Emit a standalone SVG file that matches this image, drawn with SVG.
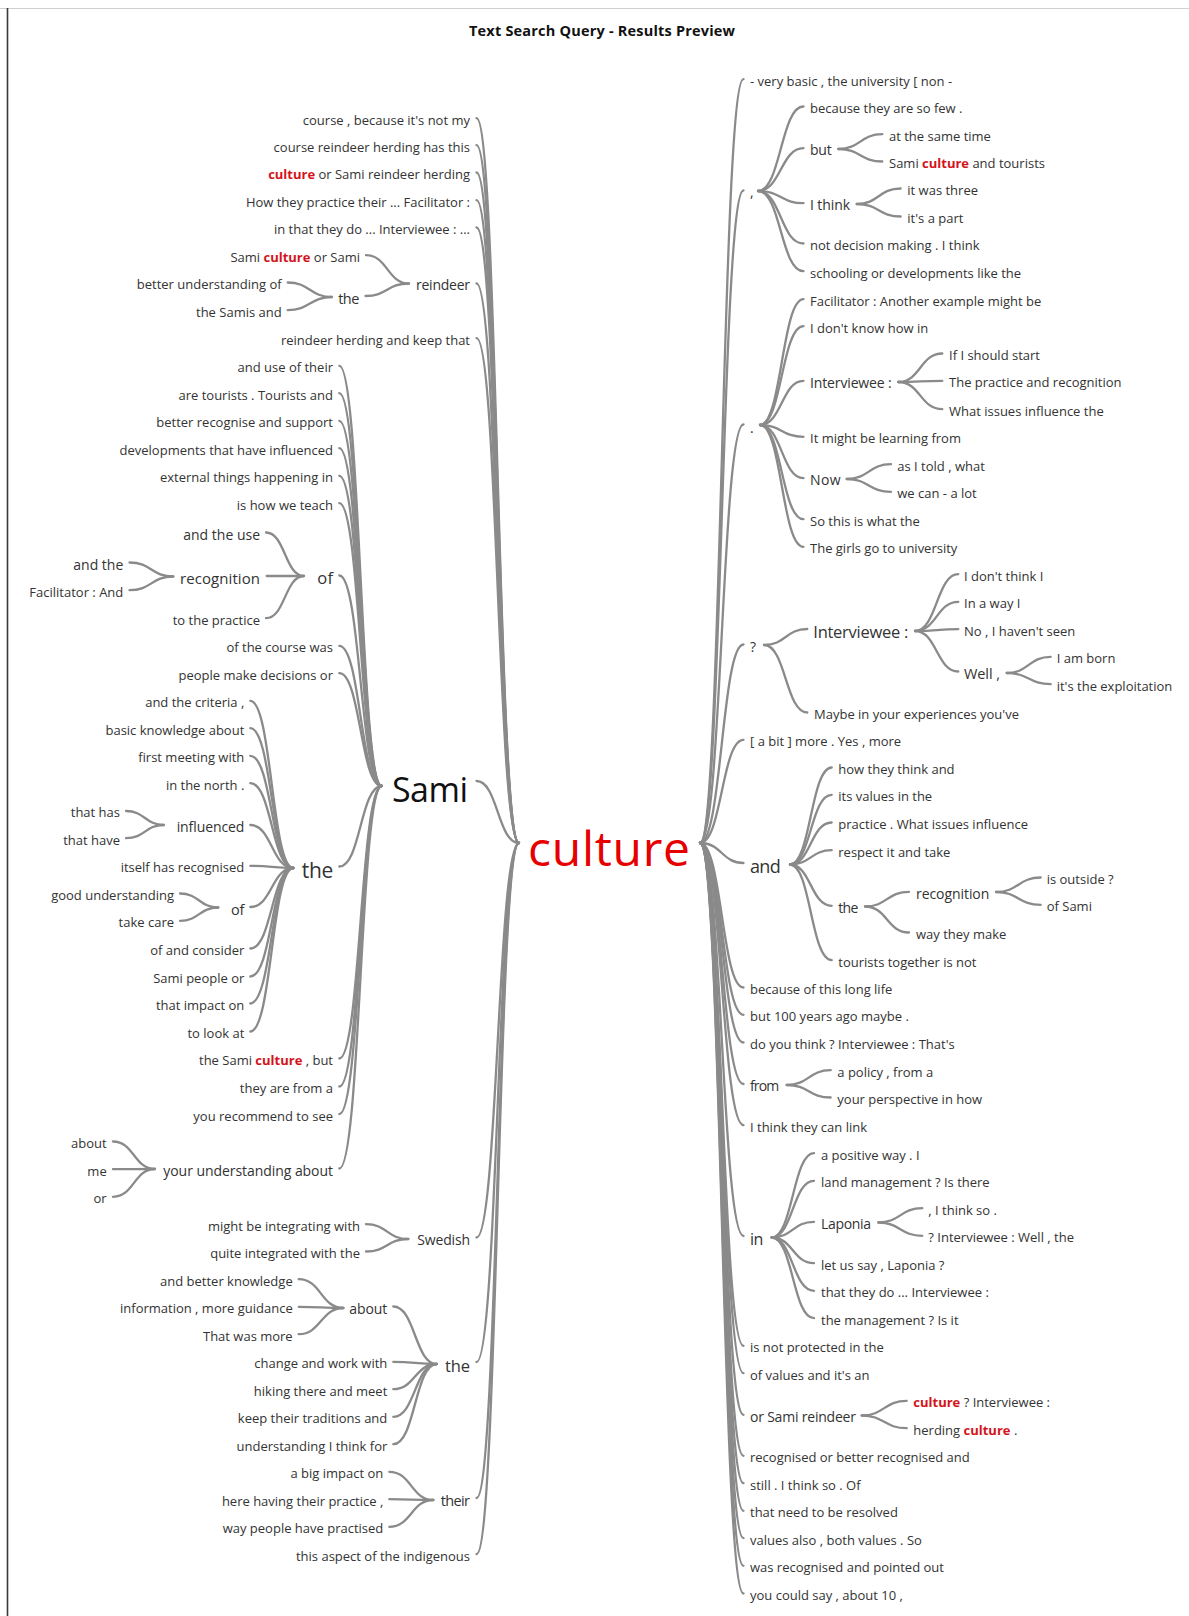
<svg xmlns="http://www.w3.org/2000/svg" width="1189" height="1616" viewBox="0 0 1189 1616">
<style>
.n{font-family:"Open Sans","Noto Sans","DejaVu Sans",sans-serif;font-size:13px;fill:#333}
.e{text-anchor:end}
.h{fill:#d4141c;font-weight:700}
.m{font-size:14px}
.c path{fill:none;stroke:#8a8a8a;stroke-width:2.3;stroke-linecap:round}
</style>
<rect width="1189" height="1616" fill="#fff"/>
<line x1="0" y1="8.5" x2="1189" y2="8.5" stroke="#d0d0d0" stroke-width="1"/>
<line x1="7.5" y1="8" x2="7.5" y2="1616" stroke="#3a3a3a" stroke-width="1.6"/>
<g id="title"><text x="602" y="36" text-anchor="middle" textLength="266" font-family="Open Sans, Noto Sans, sans-serif" font-size="14.5" font-weight="700" fill="#111">Text Search Query - Results Preview</text></g>

<g id="connectors" class="c">
<!-- left to culture -->
<path d="M476.5,118.2 C497.8,118.2 497.8,843 519,843"/>
<path d="M476.5,145.2 C497.8,145.2 497.8,843 519,843"/>
<path d="M476.5,172.5 C497.8,172.5 497.8,843 519,843"/>
<path d="M476.5,200.2 C497.8,200.2 497.8,843 519,843"/>
<path d="M476.5,227.5 C497.8,227.5 497.8,843 519,843"/>
<path d="M476.5,283.5 C497.8,283.5 497.8,843 519,843"/>
<path d="M476.5,338.2 C497.8,338.2 497.8,843 519,843"/>
<path d="M476.5,781 C497.8,781 497.8,843 519,843"/>
<path d="M476.5,1237.5 C497.8,1237.5 497.8,843 519,843"/>
<path d="M476.5,1362 C497.8,1362 497.8,843 519,843"/>
<path d="M476.5,1498 C497.8,1498 497.8,843 519,843"/>
<path d="M476.5,1554.2 C497.8,1554.2 497.8,843 519,843"/>
<!-- reindeer -->
<path d="M366,255.2 C387.5,255.2 387.5,283.5 409,283.5"/>
<path d="M365.5,296 C387.2,296 387.2,283.5 409,283.5"/>
<path d="M287.7,282.5 C309.9,282.5 309.9,297 332,297"/>
<path d="M287.7,310.2 C309.9,310.2 309.9,297 332,297"/>
<!-- Sami -->
<path d="M339.3,365.8 C360.5,365.8 360.5,786 381.7,786"/>
<path d="M339.3,393.2 C360.5,393.2 360.5,786 381.7,786"/>
<path d="M339.3,420.8 C360.5,420.8 360.5,786 381.7,786"/>
<path d="M339.3,448.2 C360.5,448.2 360.5,786 381.7,786"/>
<path d="M339.3,475.8 C360.5,475.8 360.5,786 381.7,786"/>
<path d="M339.3,503.2 C360.5,503.2 360.5,786 381.7,786"/>
<path d="M339.3,575.5 C360.5,575.5 360.5,786 381.7,786"/>
<path d="M339.3,645.8 C360.5,645.8 360.5,786 381.7,786"/>
<path d="M339.3,673.2 C360.5,673.2 360.5,786 381.7,786"/>
<path d="M339.3,866.5 C360.5,866.5 360.5,786 381.7,786"/>
<path d="M339.3,1058.5 C360.5,1058.5 360.5,786 381.7,786"/>
<path d="M339.3,1086.5 C360.5,1086.5 360.5,786 381.7,786"/>
<path d="M339.3,1114.2 C360.5,1114.2 360.5,786 381.7,786"/>
<path d="M339.3,1168.5 C360.5,1168.5 360.5,786 381.7,786"/>
<!-- of (Sami) -->
<path d="M266,532.5 C285,532.5 285,576 304,576"/>
<path d="M266.7,576 C285,576 285,576 304,576"/>
<path d="M266,618.2 C285,618.2 285,576 304,576"/>
<path d="M129.5,562.5 C151.4,562.5 151.4,576.5 173.3,576.5"/>
<path d="M129.5,590.2 C151.4,590.2 151.4,576.5 173.3,576.5"/>
<!-- the (Sami) -->
<path d="M250.3,700.8 C271.8,700.8 271.8,868 293.3,868"/>
<path d="M250.3,728.2 C271.8,728.2 271.8,868 293.3,868"/>
<path d="M250.3,755.8 C271.8,755.8 271.8,868 293.3,868"/>
<path d="M250.3,783.2 C271.8,783.2 271.8,868 293.3,868"/>
<path d="M250.3,825 C271.8,825 271.8,868 293.3,868"/>
<path d="M250.3,865.8 C271.8,865.8 271.8,868 293.3,868"/>
<path d="M250.3,907 C271.8,907 271.8,868 293.3,868"/>
<path d="M250.3,948.5 C271.8,948.5 271.8,868 293.3,868"/>
<path d="M250.3,976.5 C271.8,976.5 271.8,868 293.3,868"/>
<path d="M250.3,1003.5 C271.8,1003.5 271.8,868 293.3,868"/>
<path d="M250.3,1031.5 C271.8,1031.5 271.8,868 293.3,868"/>
<path d="M126,811 C145,811 145,825 164,825"/>
<path d="M126,838.2 C145,838.2 145,825 164,825"/>
<path d="M180,893.5 C199.2,893.5 199.2,907.5 218.3,907.5"/>
<path d="M180,920.8 C199.2,920.8 199.2,907.5 218.3,907.5"/>
<!-- your understanding about -->
<path d="M113,1141.5 C134,1141.5 134,1169 155,1169"/>
<path d="M113,1169.2 C134,1169.2 134,1169 155,1169"/>
<path d="M113,1196.8 C134,1196.8 134,1169 155,1169"/>
<!-- Swedish -->
<path d="M366,1224.2 C387.2,1224.2 387.2,1239 408.3,1239"/>
<path d="M366,1251.5 C387.2,1251.5 387.2,1239 408.3,1239"/>
<!-- the (bottom) -->
<path d="M393.3,1306.5 C415,1306.5 415,1364 436.7,1364"/>
<path d="M393.3,1361.8 C415,1361.8 415,1364 436.7,1364"/>
<path d="M393.3,1389.2 C415,1389.2 415,1364 436.7,1364"/>
<path d="M393.3,1416.8 C415,1416.8 415,1364 436.7,1364"/>
<path d="M393.3,1444.2 C415,1444.2 415,1364 436.7,1364"/>
<path d="M298.7,1279.2 C321,1279.2 321,1308 343.3,1308"/>
<path d="M298.7,1306.8 C321,1306.8 321,1308 343.3,1308"/>
<path d="M298.7,1334.2 C321,1334.2 321,1308 343.3,1308"/>
<!-- their -->
<path d="M389.3,1471.8 C411.3,1471.8 411.3,1500 433.3,1500"/>
<path d="M389.3,1499.2 C411.3,1499.2 411.3,1500 433.3,1500"/>
<path d="M389.3,1526.8 C411.3,1526.8 411.3,1500 433.3,1500"/>
<!-- right of culture -->
<path d="M700,843 C721.8,843 721.8,79.2 743.5,79.2"/>
<path d="M700,843 C721.8,843 721.8,190.5 743.5,190.5"/>
<path d="M700,843 C721.8,843 721.8,424.5 743.5,424.5"/>
<path d="M700,843 C721.8,843 721.8,644.5 743.5,644.5"/>
<path d="M700,843 C721.8,843 721.8,739.8 743.5,739.8"/>
<path d="M700,843 C721.8,843 721.8,863 743.5,863"/>
<path d="M700,843 C721.8,843 721.8,987.5 743.5,987.5"/>
<path d="M700,843 C721.8,843 721.8,1014.8 743.5,1014.8"/>
<path d="M700,843 C721.8,843 721.8,1042.5 743.5,1042.5"/>
<path d="M700,843 C721.8,843 721.8,1084 743.5,1084"/>
<path d="M700,843 C721.8,843 721.8,1125.2 743.5,1125.2"/>
<path d="M700,843 C721.8,843 721.8,1236 743.5,1236"/>
<path d="M700,843 C721.8,843 721.8,1345.8 743.5,1345.8"/>
<path d="M700,843 C721.8,843 721.8,1373.2 743.5,1373.2"/>
<path d="M700,843 C721.8,843 721.8,1414.8 743.5,1414.8"/>
<path d="M700,843 C721.8,843 721.8,1455.8 743.5,1455.8"/>
<path d="M700,843 C721.8,843 721.8,1483.2 743.5,1483.2"/>
<path d="M700,843 C721.8,843 721.8,1510.8 743.5,1510.8"/>
<path d="M700,843 C721.8,843 721.8,1538.2 743.5,1538.2"/>
<path d="M700,843 C721.8,843 721.8,1565.8 743.5,1565.8"/>
<path d="M700,843 C721.8,843 721.8,1593.5 743.5,1593.5"/>
<!-- comma -->
<path d="M758,191 C780.8,191 780.8,106.5 803.5,106.5"/>
<path d="M758,191 C780.8,191 780.8,148.2 803.5,148.2"/>
<path d="M758,191 C780.8,191 780.8,203.2 803.5,203.2"/>
<path d="M758,191 C780.8,191 780.8,243.5 803.5,243.5"/>
<path d="M758,191 C780.8,191 780.8,271.2 803.5,271.2"/>
<path d="M838.3,149 C860.3,149 860.3,134.2 882.3,134.2"/>
<path d="M838.3,149 C860.3,149 860.3,161.5 882.3,161.5"/>
<path d="M856.7,204 C878.7,204 878.7,188.5 900.7,188.5"/>
<path d="M856.7,204 C878.7,204 878.7,216.5 900.7,216.5"/>
<!-- period -->
<path d="M760,425 C781.8,425 781.8,299.2 803.5,299.2"/>
<path d="M760,425 C781.8,425 781.8,326.2 803.5,326.2"/>
<path d="M760,425 C781.8,425 781.8,380.8 803.5,380.8"/>
<path d="M760,425 C781.8,425 781.8,436.8 803.5,436.8"/>
<path d="M760,425 C781.8,425 781.8,478.2 803.5,478.2"/>
<path d="M760,425 C781.8,425 781.8,519.2 803.5,519.2"/>
<path d="M760,425 C781.8,425 781.8,546.8 803.5,546.8"/>
<path d="M898.3,382 C920.3,382 920.3,353.5 942.3,353.5"/>
<path d="M898.3,382 C920.3,382 920.3,380.8 942.3,380.8"/>
<path d="M898.3,382 C920.3,382 920.3,409.2 942.3,409.2"/>
<path d="M846.7,479 C868.8,479 868.8,464.2 891,464.2"/>
<path d="M846.7,479 C868.8,479 868.8,491.8 891,491.8"/>
<!-- question -->
<path d="M764,645 C785.7,645 785.7,629 807.3,629"/>
<path d="M764,645 C785.7,645 785.7,712.5 807.3,712.5"/>
<path d="M915,631 C936.7,631 936.7,574.2 958.3,574.2"/>
<path d="M915,631 C936.7,631 936.7,601.8 958.3,601.8"/>
<path d="M915,631 C936.7,631 936.7,629.2 958.3,629.2"/>
<path d="M915,631 C936.7,631 936.7,671.5 958.3,671.5"/>
<path d="M1006.7,673 C1028.7,673 1028.7,656.8 1050.7,656.8"/>
<path d="M1006.7,673 C1028.7,673 1028.7,684.2 1050.7,684.2"/>
<!-- and -->
<path d="M790,864.5 C810.8,864.5 810.8,767.5 831.7,767.5"/>
<path d="M790,864.5 C810.8,864.5 810.8,794.8 831.7,794.8"/>
<path d="M790,864.5 C810.8,864.5 810.8,822.5 831.7,822.5"/>
<path d="M790,864.5 C810.8,864.5 810.8,850.2 831.7,850.2"/>
<path d="M790,864.5 C810.8,864.5 810.8,905.8 831.7,905.8"/>
<path d="M790,864.5 C810.8,864.5 810.8,960.2 831.7,960.2"/>
<path d="M865,906.5 C887,906.5 887,891.8 909,891.8"/>
<path d="M865,906.5 C887,906.5 887,932.5 909,932.5"/>
<path d="M996,892 C1018.4,892 1018.4,877.5 1040.7,877.5"/>
<path d="M996,892 C1018.4,892 1018.4,904.8 1040.7,904.8"/>
<!-- from -->
<path d="M786.7,1085 C808.7,1085 808.7,1070.2 830.7,1070.2"/>
<path d="M786.7,1085 C808.7,1085 808.7,1097.5 830.7,1097.5"/>
<!-- in -->
<path d="M771.7,1237.5 C792.8,1237.5 792.8,1153.2 814,1153.2"/>
<path d="M771.7,1237.5 C792.8,1237.5 792.8,1180.8 814,1180.8"/>
<path d="M771.7,1237.5 C792.8,1237.5 792.8,1221.8 814,1221.8"/>
<path d="M771.7,1237.5 C792.8,1237.5 792.8,1263.2 814,1263.2"/>
<path d="M771.7,1237.5 C792.8,1237.5 792.8,1290.8 814,1290.8"/>
<path d="M771.7,1237.5 C792.8,1237.5 792.8,1318.2 814,1318.2"/>
<path d="M878.3,1222.5 C900.3,1222.5 900.3,1208.2 922.3,1208.2"/>
<path d="M878.3,1222.5 C900.3,1222.5 900.3,1235.8 922.3,1235.8"/>
<!-- or Sami reindeer -->
<path d="M861.7,1415.5 C884.2,1415.5 884.2,1400.8 906.7,1400.8"/>
<path d="M861.7,1415.5 C884.2,1415.5 884.2,1428.2 906.7,1428.2"/>
</g>

<g id="node-culture"><text x="528" y="866" class="n" textLength="162" style="font-size:48px;fill:#e60000">culture</text></g>
<g id="node-sami"><text x="468" y="802" class="n e" textLength="76" style="font-size:34px;fill:#111">Sami</text></g>

<!-- LEFT -->
<g id="l01"><text class="n e" x="470" y="124.7">course , because it's not my</text></g>
<g id="l02"><text class="n e" x="470" y="151.7">course reindeer herding has this</text></g>
<g id="l03"><text class="n e" x="470" y="179"><tspan class="h">culture</tspan> or Sami reindeer herding</text></g>
<g id="l04"><text class="n e" x="470" y="206.7">How they practice their ... Facilitator :</text></g>
<g id="l05"><text class="n e" x="470" y="234">in that they do ... Interviewee : ...</text></g>
<g id="l-reindeer"><text class="n e m" x="470" y="290" textLength="54">reindeer</text></g>
<g id="l06"><text class="n e" x="360" y="261.7">Sami <tspan class="h">culture</tspan> or Sami</text></g>
<g id="l-the1"><text class="n e" x="359.3" y="304" textLength="21" style="font-size:14.5px">the</text></g>
<g id="l07"><text class="n e" x="281.7" y="289">better understanding of</text></g>
<g id="l08"><text class="n e" x="281.7" y="316.7">the Samis and</text></g>
<g id="l09"><text class="n e" x="470" y="344.7">reindeer herding and keep that</text></g>
<g id="l10"><text class="n e" x="333" y="372.3">and use of their</text></g>
<g id="l11"><text class="n e" x="333" y="399.7">are tourists . Tourists and</text></g>
<g id="l12"><text class="n e" x="333" y="427.3">better recognise and support</text></g>
<g id="l13"><text class="n e" x="333" y="454.7">developments that have influenced</text></g>
<g id="l14"><text class="n e" x="333" y="482.3">external things happening in</text></g>
<g id="l15"><text class="n e" x="333" y="509.7">is how we teach</text></g>
<g id="l-of1"><text class="n e" x="333" y="584" textLength="15.7" style="font-size:16.5px">of</text></g>
<g id="l16"><text class="n e m" x="260" y="539.5">and the use</text></g>
<g id="l-recognition"><text class="n e" x="260" y="584" textLength="80" style="font-size:15px">recognition</text></g>
<g id="l17"><text class="n e m" x="123.3" y="569.5">and the</text></g>
<g id="l18"><text class="n e" x="123.3" y="596.7">Facilitator : And</text></g>
<g id="l19"><text class="n e" x="260" y="624.7">to the practice</text></g>
<g id="l20"><text class="n e" x="333" y="652.3">of the course was</text></g>
<g id="l21"><text class="n e" x="333" y="679.7">people make decisions or</text></g>
<g id="l-the2"><text class="n e" x="333.3" y="878" textLength="31.6" style="font-size:21px">the</text></g>
<g id="l22"><text class="n e" x="244.3" y="707.3">and the criteria ,</text></g>
<g id="l23"><text class="n e" x="244.3" y="734.7">basic knowledge about</text></g>
<g id="l24"><text class="n e" x="244.3" y="762.3">first meeting with</text></g>
<g id="l25"><text class="n e" x="244.3" y="789.7">in the north .</text></g>
<g id="l-influenced"><text class="n e m" x="244.3" y="832" textLength="67.6">influenced</text></g>
<g id="l26"><text class="n e" x="120" y="817.3">that has</text></g>
<g id="l27"><text class="n e" x="120" y="844.7">that have</text></g>
<g id="l28"><text class="n e" x="244.3" y="872.3">itself has recognised</text></g>
<g id="l-of2"><text class="n e" x="244.3" y="915" textLength="13.3" style="font-size:14.5px">of</text></g>
<g id="l29"><text class="n e" x="174" y="900">good understanding</text></g>
<g id="l30"><text class="n e" x="174" y="927.3">take care</text></g>
<g id="l31"><text class="n e" x="244.3" y="955">of and consider</text></g>
<g id="l32"><text class="n e" x="244.3" y="983">Sami people or</text></g>
<g id="l33"><text class="n e" x="244.3" y="1010">that impact on</text></g>
<g id="l34"><text class="n e" x="244.3" y="1038">to look at</text></g>
<g id="l35"><text class="n e" x="333" y="1065">the Sami <tspan class="h">culture</tspan> , but</text></g>
<g id="l36"><text class="n e" x="333" y="1093">they are from a</text></g>
<g id="l37"><text class="n e" x="333" y="1120.7">you recommend to see</text></g>
<g id="l-yua"><text class="n e m" x="333" y="1176" textLength="169.7">your understanding about</text></g>
<g id="l38"><text class="n e" x="106.7" y="1148">about</text></g>
<g id="l39"><text class="n e" x="106.7" y="1175.7">me</text></g>
<g id="l40"><text class="n e" x="106.7" y="1203.3">or</text></g>
<g id="l-swedish"><text class="n e m" x="470" y="1245" textLength="52.7">Swedish</text></g>
<g id="l41"><text class="n e" x="360" y="1230.7">might be integrating with</text></g>
<g id="l42"><text class="n e" x="360" y="1258">quite integrated with the</text></g>
<g id="l-the3"><text class="n e" x="470" y="1371.5" textLength="25" style="font-size:16.5px">the</text></g>
<g id="l-about"><text class="n e m" x="387.3" y="1313.5" textLength="38">about</text></g>
<g id="l43"><text class="n e" x="292.7" y="1285.7">and better knowledge</text></g>
<g id="l44"><text class="n e" x="292.7" y="1313.3">information , more guidance</text></g>
<g id="l45"><text class="n e" x="292.7" y="1340.7">That was more</text></g>
<g id="l46"><text class="n e" x="387.3" y="1368.3">change and work with</text></g>
<g id="l47"><text class="n e" x="387.3" y="1395.7">hiking there and meet</text></g>
<g id="l48"><text class="n e" x="387.3" y="1423.3">keep their traditions and</text></g>
<g id="l49"><text class="n e" x="387.3" y="1450.7">understanding I think for</text></g>
<g id="l-their"><text class="n e" x="470" y="1506" textLength="29.3" style="font-size:14.5px">their</text></g>
<g id="l50"><text class="n e" x="383.3" y="1478.3">a big impact on</text></g>
<g id="l51"><text class="n e" x="383.3" y="1505.7">here having their practice ,</text></g>
<g id="l52"><text class="n e" x="383.3" y="1533.3">way people have practised</text></g>
<g id="l53"><text class="n e" x="470" y="1560.7">this aspect of the indigenous</text></g>

<!-- RIGHT -->
<g id="r01"><text class="n" x="750" y="85.7">- very basic , the university [ non -</text></g>
<g id="r-comma"><text class="n m" x="750" y="197">,</text></g>
<g id="r02"><text class="n" x="810" y="113">because they are so few .</text></g>
<g id="r-but"><text class="n m" x="810" y="155" textLength="21.7">but</text></g>
<g id="r03"><text class="n" x="889" y="140.7">at the same time</text></g>
<g id="r04"><text class="n" x="889" y="168">Sami <tspan class="h">culture</tspan> and tourists</text></g>
<g id="r-ithink"><text class="n m" x="810" y="210" textLength="40">I think</text></g>
<g id="r05"><text class="n" x="907.3" y="195">it was three</text></g>
<g id="r06"><text class="n" x="907.3" y="223">it's a part</text></g>
<g id="r07"><text class="n" x="810" y="250">not decision making . I think</text></g>
<g id="r08"><text class="n" x="810" y="277.7">schooling or developments like the</text></g>
<g id="r-period"><text class="n m" x="750" y="433">.</text></g>
<g id="r09"><text class="n" x="810" y="305.7">Facilitator : Another example might be</text></g>
<g id="r10"><text class="n" x="810" y="332.7">I don't know how in</text></g>
<g id="r-interviewee1"><text class="n m" x="810" y="387.5" textLength="81.7">Interviewee :</text></g>
<g id="r11"><text class="n" x="949" y="360">If I should start</text></g>
<g id="r12"><text class="n" x="949" y="387.3">The practice and recognition</text></g>
<g id="r13"><text class="n" x="949" y="415.7">What issues influence the</text></g>
<g id="r14"><text class="n" x="810" y="443.3">It might be learning from</text></g>
<g id="r-now"><text class="n m" x="810" y="485" textLength="30.7">Now</text></g>
<g id="r15"><text class="n" x="897.3" y="470.7">as I told , what</text></g>
<g id="r16"><text class="n" x="897.3" y="498.3">we can - a lot</text></g>
<g id="r17"><text class="n" x="810" y="525.7">So this is what the</text></g>
<g id="r18"><text class="n" x="810" y="553.3">The girls go to university</text></g>
<g id="r-question"><text class="n m" x="750" y="651.5">?</text></g>
<g id="r-interviewee2"><text class="n" x="813.3" y="638" textLength="95" style="font-size:16.5px">Interviewee :</text></g>
<g id="r19"><text class="n" x="964" y="580.7">I don't think I</text></g>
<g id="r20"><text class="n" x="964" y="608.3">In a way I</text></g>
<g id="r21"><text class="n" x="964" y="635.7">No , I haven't seen</text></g>
<g id="r-well"><text class="n" x="964" y="679" textLength="36" style="font-size:14.5px">Well ,</text></g>
<g id="r22"><text class="n" x="1056.7" y="663.3">I am born</text></g>
<g id="r23"><text class="n" x="1056.7" y="690.7">it's the exploitation</text></g>
<g id="r24"><text class="n" x="814" y="719">Maybe in your experiences you've</text></g>
<g id="r25"><text class="n" x="750" y="746.3">[ a bit ] more . Yes , more</text></g>
<g id="r-and"><text class="n" x="750" y="873" textLength="30.7" style="font-size:18px">and</text></g>
<g id="r26"><text class="n" x="838.3" y="774">how they think and</text></g>
<g id="r27"><text class="n" x="838.3" y="801.3">its values in the</text></g>
<g id="r28"><text class="n" x="838.3" y="829">practice . What issues influence</text></g>
<g id="r29"><text class="n" x="838.3" y="856.7">respect it and take</text></g>
<g id="r-the"><text class="n m" x="838.3" y="913" textLength="20">the</text></g>
<g id="r-recognition"><text class="n m" x="916" y="899" textLength="73.3">recognition</text></g>
<g id="r30"><text class="n" x="1046.7" y="884">is outside ?</text></g>
<g id="r31"><text class="n" x="1046.7" y="911.3">of Sami</text></g>
<g id="r32"><text class="n" x="916" y="939">way they make</text></g>
<g id="r33"><text class="n" x="838.3" y="966.7">tourists together is not</text></g>
<g id="r34"><text class="n" x="750" y="994">because of this long life</text></g>
<g id="r35"><text class="n" x="750" y="1021.3">but 100 years ago maybe .</text></g>
<g id="r36"><text class="n" x="750" y="1049">do you think ? Interviewee : That's</text></g>
<g id="r-from"><text class="n m" x="750" y="1091" textLength="29.3">from</text></g>
<g id="r37"><text class="n" x="837.3" y="1076.7">a policy , from a</text></g>
<g id="r38"><text class="n" x="837.3" y="1104">your perspective in how</text></g>
<g id="r39"><text class="n" x="750" y="1131.7">I think they can link</text></g>
<g id="r-in"><text class="n" x="750" y="1244.5" textLength="13.3" style="font-size:16px">in</text></g>
<g id="r40"><text class="n" x="821" y="1159.7">a positive way . I</text></g>
<g id="r41"><text class="n" x="821" y="1187.3">land management ? Is there</text></g>
<g id="r-laponia"><text class="n m" x="821" y="1229" textLength="50">Laponia</text></g>
<g id="r42"><text class="n" x="928.3" y="1214.7">, I think so .</text></g>
<g id="r43"><text class="n" x="928.3" y="1242.3">? Interviewee : Well , the</text></g>
<g id="r44"><text class="n" x="821" y="1269.7">let us say , Laponia ?</text></g>
<g id="r45"><text class="n" x="821" y="1297.3">that they do ... Interviewee :</text></g>
<g id="r46"><text class="n" x="821" y="1324.7">the management ? Is it</text></g>
<g id="r47"><text class="n" x="750" y="1352.3">is not protected in the</text></g>
<g id="r48"><text class="n" x="750" y="1379.7">of values and it's an</text></g>
<g id="r-osr"><text class="n m" x="750" y="1421.5" textLength="106">or Sami reindeer</text></g>
<g id="r49"><text class="n" x="913.3" y="1407.3"><tspan class="h">culture</tspan> ? Interviewee :</text></g>
<g id="r50"><text class="n" x="913.3" y="1434.7">herding <tspan class="h">culture</tspan> .</text></g>
<g id="r51"><text class="n" x="750" y="1462.3">recognised or better recognised and</text></g>
<g id="r52"><text class="n" x="750" y="1489.7">still . I think so . Of</text></g>
<g id="r53"><text class="n" x="750" y="1517.3">that need to be resolved</text></g>
<g id="r54"><text class="n" x="750" y="1544.7">values also , both values . So</text></g>
<g id="r55"><text class="n" x="750" y="1572.3">was recognised and pointed out</text></g>
<g id="r56"><text class="n" x="750" y="1600">you could say , about 10 ,</text></g>
</svg>
